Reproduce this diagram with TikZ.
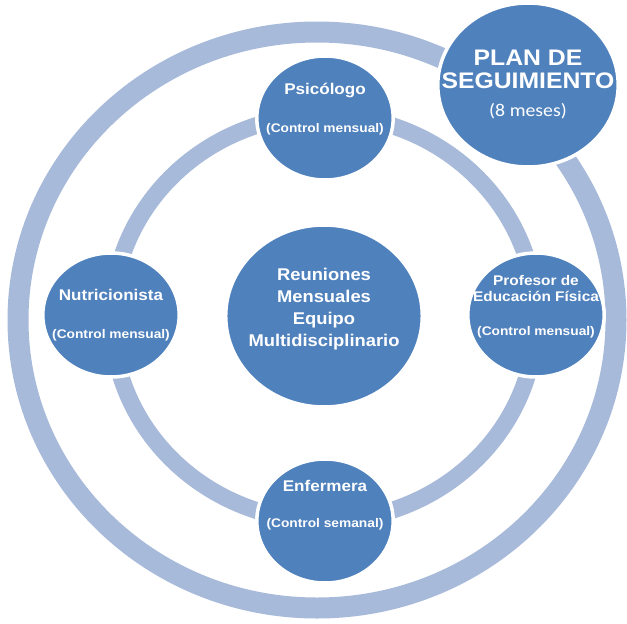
\documentclass[tikz,border=0pt]{standalone}
\usepackage{fontspec}
\setmainfont{Liberation Sans}
\newfontfamily\calibri{Carlito}
\usetikzlibrary{positioning}

\definecolor{discblue}{RGB}{79,129,189}
\definecolor{ringblue}{RGB}{168,186,218}

% Kontrollhinweis unter dem Namen
\newcommand{\ctrlnote}[1]{{\fontsize{12.5}{15}\selectfont (Control #1)}}

\begin{document}
\begin{tikzpicture}[x=1pt, y=-1pt,
  ring/.style={draw=ringblue, line width=#1},
  disc/.style={circle, fill=discblue, draw=white, line width=3.5pt, text=white,
    align=center, inner sep=-14pt, font=\bfseries\fontsize{15.5}{18}\selectfont},
  member/.style={disc, minimum size=124pt, xscale=1.1}]
  \useasboundingbox (0,0) rectangle (627,624);

  % Ringe
  \coordinate (hub) at (317,320);
  \draw[ring=21pt] (hub) ellipse [x radius=299pt, y radius=288pt];
  \coordinate (core) at (324,318);
  \draw[ring=17pt] (core) ellipse [x radius=212pt, y radius=203pt];

  % Zentrum
  \node[disc, minimum size=182pt, xscale=1.08, text depth=18pt,
    font=\bfseries\fontsize{17}{22}\selectfont] (reunion) at (324,316)
    {Reuniones\\Mensuales\\Equipo\\Multidisciplinario};

  % Equipo alrededor
  \node[member, text depth=20pt] (psico) at (325,118) {Psicólogo\\[20pt]\ctrlnote{mensual}};
  \node[member] (nutri) at (111,315) {Nutricionista\\[20pt]\ctrlnote{mensual}};
  \node[member, text depth=20pt, font=\bfseries\fontsize{14}{16}\selectfont] (profe) at (536,315)
    {Profesor de\\Educación Física\\[18pt]\ctrlnote{mensual}};
  \node[member, text depth=34pt] (enfer) at (325,521) {Enfermera\\[18pt]\ctrlnote{semanal}};

  % Plan oben rechts
  \node[disc, minimum size=164pt, xscale=1.1, text depth=4pt,
    font=\bfseries\fontsize{22.5}{23}\selectfont] (plan) at (528,85)
    {PLAN DE\\SEGUIMIENTO\\[5pt]\calibri\mdseries\fontsize{18}{20}\selectfont (8 meses)};
\end{tikzpicture}
\end{document}
